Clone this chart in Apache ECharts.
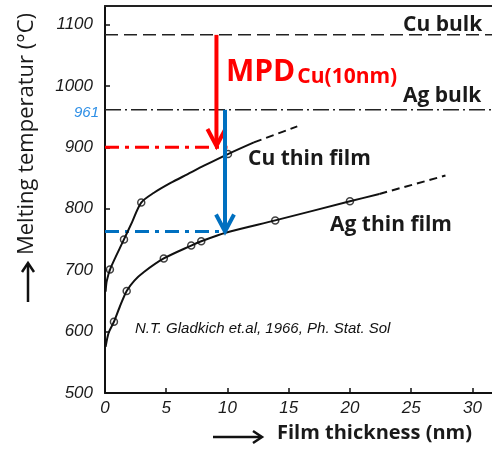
<!DOCTYPE html>
<html>
<head>
<meta charset="utf-8">
<script src="https://cdn.jsdelivr.net/npm/echarts@6/dist/echarts.min.js"></script>
<style>
  html, body { margin: 0; padding: 0; background: #fff; }
  #main { width: 492px; height: 449px; }
</style>
</head>
<body>
<div id="main"></div>
<script>
// 数据
var xTicks = [0, 5, 10, 15, 20, 25, 30];
var yTicks = [500, 600, 700, 800, 900, 1000, 1100];
var cuBulk = 1083;
var agBulk = 961;

// Cu thin film: solid curve + dashed extension + measured points
var cuCurve = [[0.05, 665], [0.15, 683], [0.47, 704], [1.55, 750], [2.23, 779], [2.96, 810], [4.0, 826], [5.36, 842], [6.72, 856], [8.08, 870], [10.04, 889], [12.16, 908]];
var cuDash = [[12.16, 908], [15.7, 934]];
var cuPoints = [[0.4, 701], [1.55, 750], [2.96, 810], [10.04, 889]];

// Ag thin film
var agCurve = [[0.05, 575], [0.3, 598], [0.73, 616], [1.2, 640], [1.77, 666], [2.4, 683], [3.18, 697], [4.8, 719], [7.04, 740], [7.86, 747], [9.85, 761], [13.9, 781], [20.0, 812], [22.4, 824]];
var agDash = [[22.4, 824], [27.8, 854]];
var agPoints = [[0.73, 616], [1.77, 666], [4.8, 719], [7.04, 740], [7.86, 747], [13.9, 781], [20.0, 812]];

// MPD guide lines and arrows  [x, from, to]
var redLine = [[0, 900], [10, 900]];
var blueLine = [[0, 763], [9.9, 763]];
var redArrow = [[9.1, 1083, 902]];
var blueArrow = [[9.8, 961, 763]];

var xMax = 31.6;
var yMax = 1130;

var labelFont = { fontFamily: 'Liberation Sans', fontStyle: 'italic', fontSize: 17, color: '#1a1a1a' };

function arrowItem(color) {
  return function (params, api) {
    var p1 = api.coord([api.value(0), api.value(1)]);
    var p2 = api.coord([api.value(0), api.value(2)]);
    return {
      type: 'group',
      children: [
        { type: 'line', shape: { x1: p1[0], y1: p1[1], x2: p2[0], y2: p2[1] - 2 },
          style: { stroke: color, lineWidth: 4 } },
        { type: 'polyline', shape: { points: [[p2[0] - 9, p2[1] - 17], [p2[0], p2[1]], [p2[0] + 9, p2[1] - 17]] },
          style: { stroke: color, lineWidth: 4, fill: null } }
      ]
    };
  };
}

var myChart = echarts.init(document.getElementById('main'));
var option = {
  animation: false,
  grid: { left: 105, right: 0, top: 6, bottom: 56 },
  xAxis: [
    {
      type: 'value', min: 0, max: xMax, interval: 5,
      axisLine: { lineStyle: { color: '#111', width: 2 } },
      axisTick: { inside: true, length: 5, lineStyle: { color: '#111', width: 1.5 } },
      splitLine: { show: false },
      axisLabel: Object.assign({ margin: 7, showMaxLabel: false,
        formatter: function (v) { return xTicks.indexOf(v) >= 0 ? String(v) : ''; } }, labelFont)
    },
    {
      type: 'value', position: 'top', min: 0, max: xMax,
      axisLine: { show: true, lineStyle: { color: '#222', width: 2 } },
      axisTick: { show: false }, axisLabel: { show: false }, splitLine: { show: false }
    }
  ],
  yAxis: {
    type: 'value', min: 500, max: yMax, interval: 100,
    axisLine: { show: true, lineStyle: { color: '#111', width: 2 } },
    axisTick: { show: true, inside: true, length: 5, lineStyle: { color: '#111', width: 1.5 } },
    splitLine: { show: false },
    axisLabel: Object.assign({ margin: 12, showMaxLabel: false,
      formatter: function (v) { return yTicks.indexOf(v) >= 0 ? String(v) : ''; } }, labelFont)
  },
  series: [
    { name: 'Cu bulk', type: 'line', symbol: 'none', data: [[0, cuBulk], [xMax, cuBulk]],
      lineStyle: { color: '#222', width: 1.5, type: [13, 6] } },
    { name: 'Ag bulk', type: 'line', symbol: 'none', data: [[0, agBulk], [xMax, agBulk]],
      lineStyle: { color: '#222', width: 1.5, type: [16, 4, 2, 4] } },
    { name: 'red guide', type: 'line', symbol: 'none', data: redLine,
      lineStyle: { color: '#ff0000', width: 3, type: [14, 6, 4, 6] } },
    { name: 'blue guide', type: 'line', symbol: 'none', data: blueLine,
      lineStyle: { color: '#0070c0', width: 3, type: [14, 6, 4, 6] } },
    { name: 'Cu thin film', type: 'line', symbol: 'none', smooth: 0.3, data: cuCurve,
      lineStyle: { color: '#111', width: 2 } },
    { name: 'Cu ext', type: 'line', symbol: 'none', data: cuDash,
      lineStyle: { color: '#111', width: 2, type: [8, 5] } },
    { name: 'Ag thin film', type: 'line', symbol: 'none', smooth: 0.3, data: agCurve,
      lineStyle: { color: '#111', width: 2 } },
    { name: 'Ag ext', type: 'line', symbol: 'none', data: agDash,
      lineStyle: { color: '#111', width: 2, type: [8, 5] } },
    { name: 'Cu pts', type: 'scatter', symbol: 'circle', symbolSize: 7, data: cuPoints,
      itemStyle: { color: '#fff', borderColor: '#111', borderWidth: 1.5 } },
    { name: 'Ag pts', type: 'scatter', symbol: 'circle', symbolSize: 7, data: agPoints,
      itemStyle: { color: '#fff', borderColor: '#111', borderWidth: 1.5 } },
    { name: 'red arrow', type: 'custom', renderItem: arrowItem('#ff0000'), data: redArrow, z: 5 },
    { name: 'blue arrow', type: 'custom', renderItem: arrowItem('#0070c0'), data: blueArrow, z: 5 }
  ],
  graphic: [
    { type: 'text', x: 27, y: 134, rotation: Math.PI / 2,
      style: { text: 'Melting temperatur (°C)', fill: '#1a1a1a', font: '22px "Open Sans"', align: 'center', verticalAlign: 'middle' } },
    { type: 'polyline', shape: { points: [[28, 302], [28, 264]] }, style: { stroke: '#111', lineWidth: 2.5, fill: null } },
    { type: 'polyline', shape: { points: [[22, 272], [28, 263], [34, 272]] }, style: { stroke: '#111', lineWidth: 2.5, fill: null } },
    { type: 'polyline', shape: { points: [[213, 437], [261, 437]] }, style: { stroke: '#111', lineWidth: 2.5, fill: null } },
    { type: 'polyline', shape: { points: [[253, 431], [262, 437], [253, 443]] }, style: { stroke: '#111', lineWidth: 2.5, fill: null } },
    { type: 'text', x: 277, y: 433,
      style: { text: 'Film thickness (nm)', fill: '#1a1a1a', font: 'bold 20px "Open Sans"', align: 'left', verticalAlign: 'middle' } },
    { type: 'text', x: 403, y: 25,
      style: { text: 'Cu bulk', fill: '#1a1a1a', font: 'bold 21px "Open Sans"', align: 'left', verticalAlign: 'middle' } },
    { type: 'text', x: 403, y: 96,
      style: { text: 'Ag bulk', fill: '#1a1a1a', font: 'bold 21px "Open Sans"', align: 'left', verticalAlign: 'middle' } },
    { type: 'text', x: 248, y: 159,
      style: { text: 'Cu thin film', fill: '#1a1a1a', font: 'bold 21px "Open Sans"', align: 'left', verticalAlign: 'middle' } },
    { type: 'text', x: 330, y: 225,
      style: { text: 'Ag thin film', fill: '#1a1a1a', font: 'bold 21px "Open Sans"', align: 'left', verticalAlign: 'middle' } },
    { type: 'text', x: 135, y: 329,
      style: { text: 'N.T. Gladkich et.al, 1966, Ph. Stat. Sol', fill: '#111', font: 'italic 15px "Liberation Sans"', align: 'left', verticalAlign: 'middle' } },
    { type: 'text', x: 99, y: 113,
      style: { text: '961', fill: '#2e8fe6', font: 'italic 15px "Liberation Sans"', align: 'right', verticalAlign: 'middle' } },
    { type: 'text', x: 226, y: 66,
      style: {
        text: '{a|MPD}{b|Cu(10nm)}', align: 'left', verticalAlign: 'middle',
        rich: {
          a: { fill: '#ff0000', font: 'bold 30px "Open Sans"', verticalAlign: 'bottom' },
          b: { fill: '#ff0000', font: 'bold 21px "Open Sans"', padding: [22, 0, 0, 2] }
        }
      } }
  ]
};
myChart.setOption(option);
</script>
</body>
</html>
